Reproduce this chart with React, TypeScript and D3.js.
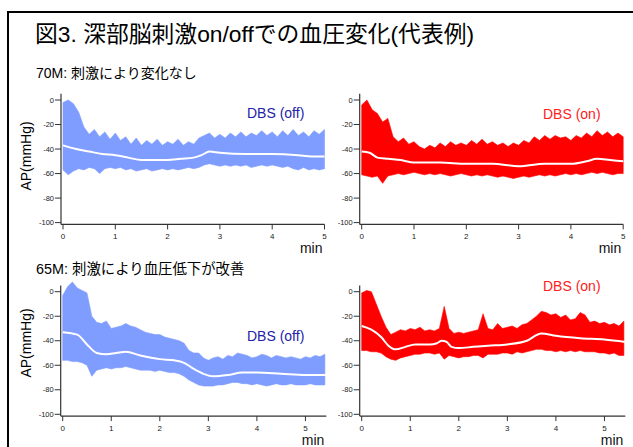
import { useEffect, useRef } from 'react'
import * as d3 from 'd3'

// envelope samples every 0.1 min (upper / lower edge of the pulse trace, mmHg)
const off70Upper = [-2, 0, -3, -10, -22, -28, -24, -30, -26, -32, -27, -33, -30, -36, -31, -37, -33, -36, -32, -37, -34, -36, -32, -37, -34, -36, -31, -29, -27, -31, -28, -31, -27, -30, -26, -30, -27, -29, -25, -29, -26, -30, -25, -29, -24, -29, -26, -30, -25, -28, -24]
const off70Lower = [-57, -61, -58, -56, -57, -55, -56, -60, -56, -55, -56, -55, -57, -56, -58, -57, -56, -58, -57, -56, -57, -56, -57, -56, -55, -56, -55, -53, -52, -53, -54, -53, -54, -53, -54, -53, -55, -54, -53, -54, -53, -54, -55, -54, -56, -57, -55, -57, -56, -57, -56]
const on70Upper = [-4, 0, -8, -11, -18, -15, -30, -34, -31, -36, -34, -38, -40, -37, -39, -35, -38, -34, -37, -35, -37, -33, -36, -32, -36, -34, -37, -35, -38, -35, -37, -33, -35, -30, -33, -29, -32, -29, -31, -30, -33, -29, -31, -27, -30, -25, -29, -26, -30, -27, -30]
const on70Lower = [-61, -62, -63, -62, -68, -62, -61, -60, -61, -60, -59, -60, -61, -60, -61, -60, -61, -62, -61, -60, -61, -62, -61, -62, -61, -62, -63, -62, -63, -64, -63, -62, -63, -62, -61, -62, -61, -62, -61, -60, -61, -60, -61, -60, -59, -60, -59, -60, -61, -60, -60]
const off65Upper = [-3, 4, 8, 3, 1, -1, -20, -25, -26, -24, -30, -29, -28, -26, -28, -29, -31, -33, -34, -35, -35, -37, -38, -39, -40, -42, -48, -50, -50, -54, -56, -54, -53, -55, -52, -53, -50, -51, -52, -54, -53, -51, -52, -54, -52, -53, -54, -53, -54, -55, -53, -54, -52, -53, -51]
const off65Lower = [-56, -56, -57, -57, -58, -60, -69, -64, -63, -62, -63, -62, -62, -61, -62, -63, -64, -64, -64, -65, -64, -65, -66, -66, -67, -69, -72, -74, -76, -77, -77, -77, -76, -76, -75, -74, -74, -75, -75, -76, -75, -76, -77, -76, -75, -76, -76, -75, -76, -76, -76, -75, -76, -76, -76]
const on65Upper = [-1, 1, 0, -10, -20, -29, -35, -33, -31, -32, -30, -31, -29, -32, -31, -32, -30, -12, -30, -34, -33, -34, -33, -32, -31, -18, -30, -31, -26, -30, -29, -28, -30, -27, -26, -23, -20, -16, -17, -19, -18, -21, -19, -23, -22, -17, -19, -25, -24, -26, -25, -27, -26, -28, -24]
const on65Lower = [-48, -48, -49, -49, -50, -53, -55, -56, -54, -53, -52, -51, -51, -50, -50, -51, -50, -55, -52, -53, -54, -53, -53, -52, -52, -54, -51, -51, -51, -50, -50, -51, -49, -50, -49, -48, -47, -47, -48, -48, -49, -48, -49, -48, -49, -48, -49, -49, -49, -50, -50, -51, -50, -52, -52]

// smoothed mean pressure
const off70MeanT = [0, 0.25, 0.5, 0.75, 1, 1.25, 1.5, 1.75, 2, 2.25, 2.5, 2.65, 2.8, 3, 3.5, 4, 4.5, 4.75, 5]
const off70Mean = [-37, -40, -42, -44, -45, -47, -49, -49, -49, -48, -47, -45, -42, -43, -44, -44, -45, -46, -46]
const on70MeanT = [0, 0.15, 0.3, 0.5, 0.75, 1, 1.5, 2, 2.5, 3, 3.5, 4, 4.3, 4.5, 4.75, 5]
const on70Mean = [-42, -43, -47, -48, -49, -51, -51, -52, -52, -54, -52, -52, -50, -48, -49, -50]
const off65MeanT = [0, 0.3, 0.5, 0.7, 0.9, 1.1, 1.3, 1.6, 2, 2.3, 2.5, 2.7, 2.9, 3.1, 3.4, 3.7, 4, 4.5, 5, 5.43]
const off65Mean = [-33, -35, -43, -50, -51, -50, -49, -52, -55, -56, -58, -63, -67, -69, -68, -66, -66, -67, -68, -68]
const on65MeanT = [0, 0.2, 0.4, 0.55, 0.7, 0.9, 1.1, 1.4, 1.55, 1.65, 1.75, 1.85, 2, 2.3, 2.6, 3, 3.4, 3.7, 4, 4.5, 5, 5.43]
const on65Mean = [-28, -31, -37, -44, -47, -45, -43, -43, -42, -40, -41, -45, -46, -45, -44, -43, -40, -34, -36, -38, -39, -41]

const yTicks = [0, -20, -40, -60, -80, -100]
const xTicks = [0, 1, 2, 3, 4, 5]

const titleText = '図3. 深部脳刺激on/offでの血圧変化(代表例)'
const rowTitles = ['70M: 刺激により変化なし', '65M: 刺激により血圧低下が改善']

interface Panel {
  upper: number[]
  lower: number[]
  meanT: number[]
  mean: number[]
  x0: number
  xPerMin: number
  xMax: number
  y0: number
  label: string
  color: string
  labelColor: string
  labelX: number
  labelY: number
}

const BLUE = '#7f9cff'
const RED = '#ff0000'

const panels: Panel[] = [
  { upper: off70Upper, lower: off70Lower, meanT: off70MeanT, mean: off70Mean, x0: 63, xPerMin: 52.3, xMax: 5, y0: 100, label: 'DBS (off)', color: BLUE, labelColor: '#2222aa', labelX: 247, labelY: 118 },
  { upper: on70Upper, lower: on70Lower, meanT: on70MeanT, mean: on70Mean, x0: 361.7, xPerMin: 52.3, xMax: 5, y0: 100, label: 'DBS (on)', color: RED, labelColor: '#ff2020', labelX: 543, labelY: 119 },
  { upper: off65Upper, lower: off65Lower, meanT: off65MeanT, mean: off65Mean, x0: 62.7, xPerMin: 48.55, xMax: 5.43, y0: 291.7, label: 'DBS (off)', color: BLUE, labelColor: '#2222aa', labelX: 247, labelY: 341 },
  { upper: on65Upper, lower: on65Lower, meanT: on65MeanT, mean: on65Mean, x0: 361.7, xPerMin: 48.55, xMax: 5.43, y0: 291.7, label: 'DBS (on)', color: RED, labelColor: '#ff2020', labelX: 543, labelY: 291 }
]

const W = 633
const H = 447
const FONT = '"Liberation Sans", Arial, "Noto Sans CJK JP", sans-serif'

export default function App() {
  const svgRef = useRef<SVGSVGElement>(null)

  useEffect(() => {
    if (!svgRef.current) return
    const svg = d3.select(svgRef.current)
    svg.selectAll('*').remove()

    // frame (open on the right and bottom, like the cropped slide)
    svg.append('path')
      .attr('d', `M8,${H + 5}V12H${W + 5}`)
      .attr('fill', 'none')
      .attr('stroke', '#000')
      .attr('stroke-width', 2)

    svg.append('text')
      .attr('x', 35)
      .attr('y', 42)
      .attr('font-size', 22.8)
      .attr('font-family', FONT)
      .attr('fill', '#000')
      .text(titleText)

    svg.append('text').attr('x', 36).attr('y', 78).attr('font-size', 14).attr('font-family', FONT).text(rowTitles[0])
    svg.append('text').attr('x', 36).attr('y', 274).attr('font-size', 14.4).attr('font-family', FONT).text(rowTitles[1])

    // y titles
    ;[156, 343].forEach(cy => {
      svg.append('text')
        .attr('transform', `translate(31,${cy}) rotate(-90)`)
        .attr('text-anchor', 'middle')
        .attr('font-size', 14)
        .attr('font-family', FONT)
        .text('AP(mmHg)')
    })

    panels.forEach(p => {
      const x = d3.scaleLinear().domain([0, 1]).range([p.x0, p.x0 + p.xPerMin])
      const y = d3.scaleLinear().domain([0, -100]).range([p.y0, p.y0 + 122.6])
      const g = svg.append('g')

      const env = p.upper.map((u, i) => ({ t: i * 0.1, hi: u, lo: p.lower[i] }))
      const area = d3.area<{ t: number; hi: number; lo: number }>()
        .x(d => x(Math.min(d.t, p.xMax)))
        .y0(d => y(d.lo))
        .y1(d => y(d.hi))
      g.append('path').attr('d', area(env)).attr('fill', p.color).attr('stroke', p.color).attr('stroke-width', 0.6)

      const meanLine = d3.line<number>()
        .x((_, i) => x(p.meanT[i]))
        .y(d => y(d))
        .curve(d3.curveMonotoneX)
      g.append('path').attr('d', meanLine(p.mean)).attr('fill', 'none').attr('stroke', '#fff').attr('stroke-width', 2)

      // axes, offset a little from the data like the original
      const axX = p.x0 - 2
      const axY = y(-100) + 1.8
      const xEnd = x(p.xMax)
      g.append('line').attr('x1', axX).attr('x2', axX).attr('y1', y(5)).attr('y2', axY).attr('stroke', '#333').attr('stroke-width', 1.2)
      g.append('line').attr('x1', axX).attr('x2', xEnd).attr('y1', axY).attr('y2', axY).attr('stroke', '#333').attr('stroke-width', 1.4)

      yTicks.forEach(v => {
        g.append('line').attr('x1', axX - 6).attr('x2', axX).attr('y1', y(v)).attr('y2', y(v)).attr('stroke', '#333').attr('stroke-width', 1)
        g.append('text')
          .attr('x', axX - 7)
          .attr('y', y(v))
          .attr('dy', '0.35em')
          .attr('text-anchor', 'end')
          .attr('font-size', 7.5)
          .attr('font-family', FONT)
          .attr('fill', '#222')
          .text(v)
      })
      xTicks.forEach(v => {
        g.append('line').attr('x1', x(v)).attr('x2', x(v)).attr('y1', axY).attr('y2', axY + 5).attr('stroke', '#333').attr('stroke-width', 1)
        g.append('text')
          .attr('x', x(v))
          .attr('y', axY + 15)
          .attr('text-anchor', 'middle')
          .attr('font-size', 8)
          .attr('font-family', FONT)
          .attr('fill', '#222')
          .text(v)
      })
      g.append('text')
        .attr('x', xEnd - 2)
        .attr('y', axY + 29)
        .attr('text-anchor', 'end')
        .attr('font-size', 14)
        .attr('font-family', FONT)
        .attr('fill', '#111')
        .text('min')

      g.append('text')
        .attr('x', p.labelX)
        .attr('y', p.labelY)
        .attr('font-size', 14)
        .attr('font-family', FONT)
        .attr('fill', p.labelColor)
        .text(p.label)
    })
  }, [])

  return (
    <svg
      ref={svgRef}
      width={W}
      height={H}
      style={{ position: 'absolute', left: 0, top: 0, background: '#fff' }}
    />
  )
}
